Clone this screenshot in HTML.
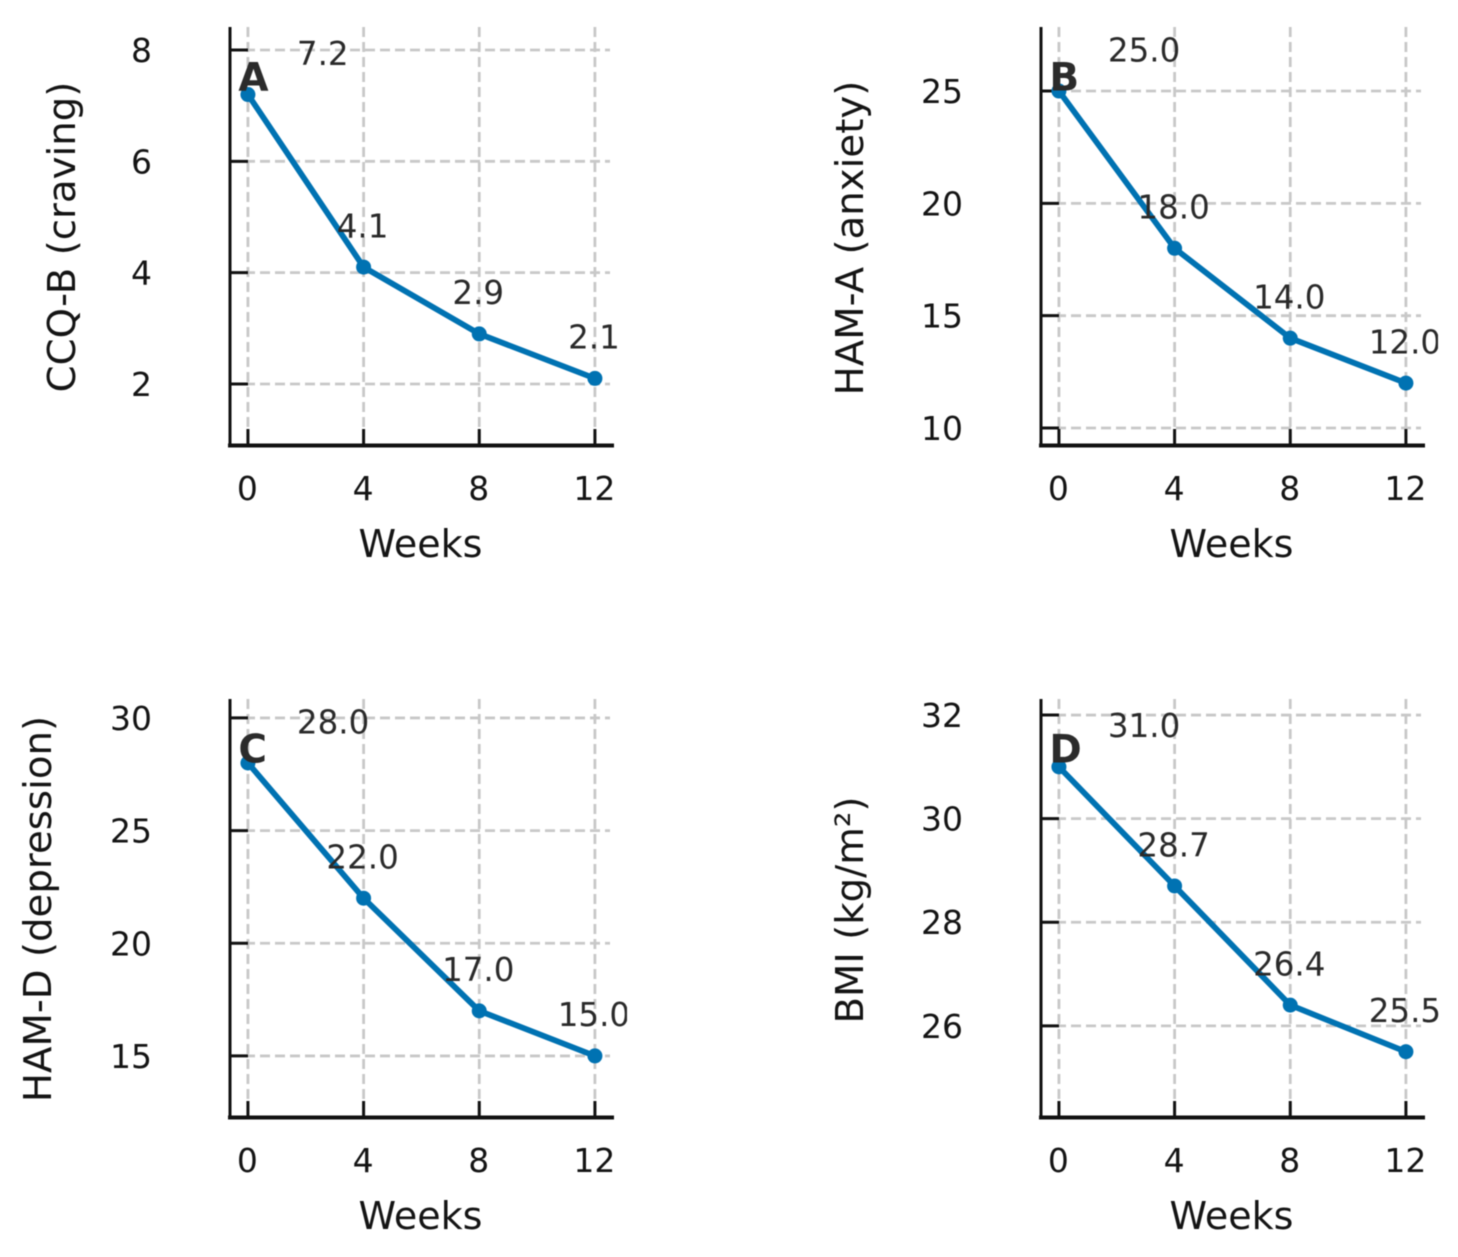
<!DOCTYPE html>
<html>
<head>
<meta charset="utf-8">
<title>Outcome measures over 12 weeks</title>
<style>
  html, body { margin: 0; padding: 0; background: #fff; }
  #chart { display: block; width: 1458px; height: 1257px; font-family: "DejaVu Sans", "Liberation Sans", sans-serif; }
</style>
</head>
<body>
<svg id="chart" xmlns="http://www.w3.org/2000/svg" width="1458" height="1257" viewBox="0 0 1458 1257" style="filter: blur(0.6px);"></svg>
<script>
const weeks = [0, 4, 8, 12];
const ccqValues = [7.2, 4.1, 2.9, 2.1];
const hamAValues = [25.0, 18.0, 14.0, 12.0];
const hamDValues = [28.0, 22.0, 17.0, 15.0];
const bmiValues = [31.0, 28.7, 26.4, 25.5];
const ccqTicks = [2, 4, 6, 8];
const hamATicks = [10, 15, 20, 25];
const hamDTicks = [15, 20, 25, 30];
const bmiTicks = [26, 28, 30, 32];
const xDomain = [-0.62, 12.66];

const panels = [
  { key: 'a', letter: 'A', title: 'CCQ-B (craving)', values: ccqValues, ticks: ccqTicks, domain: [0.904, 8.413], left: 230, top: 27, titleX: 75, titleY: 237, clipRight: 628 },
  { key: 'b', letter: 'B', title: 'HAM-A (anxiety)', values: hamAValues, ticks: hamATicks, domain: [9.243, 27.85], left: 1041, top: 27, titleX: 863, titleY: 238, clipRight: 1438 },
  { key: 'c', letter: 'C', title: 'HAM-D (depression)', values: hamDValues, ticks: hamDTicks, domain: [12.29, 30.84], left: 230, top: 699, titleX: 51, titleY: 909, clipRight: 627 },
  { key: 'd', letter: 'D', title: 'BMI (kg/m²)', values: bmiValues, ticks: bmiTicks, domain: [24.24, 32.31], left: 1041, top: 699, titleX: 863, titleY: 910, clipRight: 1442 }
];

const NS = 'http://www.w3.org/2000/svg';
const root = document.getElementById('chart');
const plotW = 384;
const plotH = 418;

function make(parent, tag, attrs, text) {
  const el = document.createElementNS(NS, tag);
  for (const k in attrs) el.setAttribute(k, attrs[k]);
  if (text !== undefined) el.textContent = text;
  parent.appendChild(el);
  return el;
}

panels.forEach(function (p) {
  const xScale = function (v) { return p.left + (v - xDomain[0]) / (xDomain[1] - xDomain[0]) * plotW; };
  const bottom = p.top + plotH;
  const yScale = function (v) { return bottom - (v - p.domain[0]) / (p.domain[1] - p.domain[0]) * plotH; };

  const g = make(root, 'g', {});
  
  

  const clip = make(g, 'clipPath', { id: 'clip-' + p.key });
  make(clip, 'rect', { x: 0, y: 0, width: p.clipRight, height: 1257 });

  // Grid
  p.ticks.forEach(function (t) {
    const line = make(g, 'line', { x1: p.left, x2: p.left + plotW - 4, y1: yScale(t), y2: yScale(t), stroke: '#c8c8c8', 'stroke-width': 2.8, 'stroke-dasharray': '10 5' });
    
    
  });
  weeks.forEach(function (w) {
    const line = make(g, 'line', { x1: xScale(w), x2: xScale(w), y1: p.top, y2: bottom, stroke: '#c8c8c8', 'stroke-width': 2.8, 'stroke-dasharray': '10 5' });
    
    
  });

  // Ticks and tick labels
  p.ticks.forEach(function (t) {
    const tick = make(g, 'line', { x1: p.left, x2: p.left + 18, y1: yScale(t), y2: yScale(t), stroke: '#111', 'stroke-width': 3 });
    
    
    const label = make(g, 'text', { x: p.left - 78, y: yScale(t) + 12, 'text-anchor': 'end', 'font-size': 33, fill: '#141414' }, String(t));
    
    
  });
  weeks.forEach(function (w) {
    const tick = make(g, 'line', { x1: xScale(w), x2: xScale(w), y1: bottom - 16, y2: bottom, stroke: '#111', 'stroke-width': 3 });
    
    
    const label = make(g, 'text', { x: xScale(w) - 0.5, y: bottom + 55, 'text-anchor': 'middle', 'font-size': 33, fill: '#141414' }, String(w));
    
    
  });

  // Spines
  const leftSpine = make(g, 'line', { x1: p.left, x2: p.left, y1: p.top, y2: bottom + 1, stroke: '#111', 'stroke-width': 3 });
  
  
  const bottomSpine = make(g, 'line', { x1: p.left - 2, x2: p.left + plotW, y1: bottom + 0.5, y2: bottom + 0.5, stroke: '#111', 'stroke-width': 4 });
  
  

  // Series
  const pts = weeks.map(function (w, i) { return xScale(w) + ',' + yScale(p.values[i]); }).join(' ');
  const series = make(g, 'polyline', { points: pts, fill: 'none', stroke: '#0072B2', 'stroke-width': 5.8, 'stroke-linejoin': 'round' });
  
  
  weeks.forEach(function (w, i) {
    const dot = make(g, 'circle', { cx: xScale(w), cy: yScale(p.values[i]), r: 7.5, fill: '#0072B2' });
    
    
  });

  // Value labels
  weeks.forEach(function (w, i) {
    const first = i === 0;
    const label = make(g, 'text', {
      x: first ? xScale(w) + 49 : xScale(w) - 1,
      y: yScale(p.values[i]) - 29.7,
      'text-anchor': first ? 'start' : 'middle',
      'font-size': 32.5,
      fill: '#2a2a2a',
      'clip-path': 'url(#clip-' + p.key + ')'
    }, p.values[i].toFixed(1));
    
    
  });

  // Panel letter
  const letter = make(g, 'text', { x: xScale(0) - 9.5, y: p.top + 63.5, 'font-size': 39, 'font-weight': 'bold', fill: '#2b2b2b' }, p.letter);
  
  

  // Axis titles
  const xTitle = make(g, 'text', { x: p.left + plotW / 2 - 1.5, y: bottom + 112, 'text-anchor': 'middle', 'font-size': 38, fill: '#141414' }, 'Weeks');
  
  
  const yTitle = make(g, 'text', { x: 0, y: 0, transform: 'translate(' + p.titleX + ' ' + p.titleY + ') rotate(-90)', 'text-anchor': 'middle', 'font-size': 38.7, fill: '#141414' }, p.title);
  
  
});
</script>
</body>
</html>
